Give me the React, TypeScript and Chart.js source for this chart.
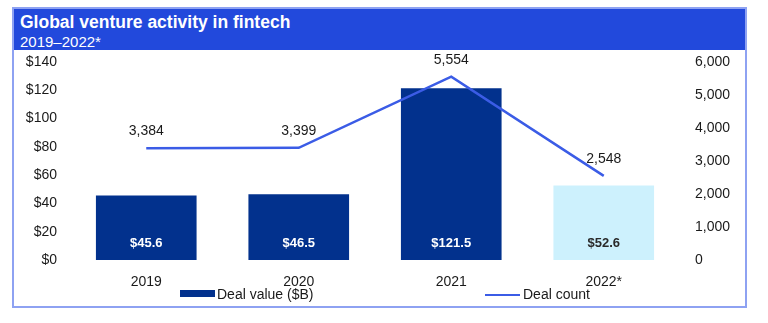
import React, { useEffect, useRef } from "react";
import { Chart, registerables } from "chart.js";

Chart.register(...registerables);

const categories = ["2019", "2020", "2021", "2022*"];
const dealValue = [45.6, 46.5, 121.5, 52.6];
const dealValueLabels = ["$45.6", "$46.5", "$121.5", "$52.6"];
const dealCount = [3384, 3399, 5554, 2548];
const dealCountLabels = ["3,384", "3,399", "5,554", "2,548"];
const barColors = ["#02318d", "#02318d", "#02318d", "#cdf1fd"];
const barLabelColors = ["#ffffff", "#ffffff", "#ffffff", "#2a2a2a"];

const FONT = "'Liberation Sans', Arial, sans-serif";

const labelPlugin = {
  id: "customLabels",
  afterDatasetsDraw(chart: any) {
    const ctx = chart.ctx;
    const barMeta = chart.getDatasetMeta(0);
    const lineMeta = chart.getDatasetMeta(1);
    ctx.save();
    ctx.textAlign = "center";
    ctx.textBaseline = "middle";
    ctx.font = `bold 13px ${FONT}`;
    barMeta.data.forEach((el: any, i: number) => {
      ctx.fillStyle = barLabelColors[i];
      ctx.fillText(dealValueLabels[i], el.x, chart.chartArea.bottom - 17);
    });
    ctx.font = `14px ${FONT}`;
    ctx.fillStyle = "#1a1a1a";
    lineMeta.data.forEach((el: any, i: number) => {
      ctx.fillText(dealCountLabels[i], el.x, el.y - 17);
    });
    // legend
    ctx.textAlign = "left";
    ctx.fillStyle = "#02318d";
    ctx.fillRect(180, 290, 35, 7);
    ctx.fillStyle = "#1a1a1a";
    ctx.font = `14px ${FONT}`;
    ctx.fillText("Deal value ($B)", 217, 295);
    ctx.strokeStyle = "#3b5ce6";
    ctx.lineWidth = 2;
    ctx.beginPath();
    ctx.moveTo(485, 295);
    ctx.lineTo(520, 295);
    ctx.stroke();
    ctx.fillText("Deal count", 523, 295);
    ctx.restore();
  },
};

export default function App() {
  const ref = useRef<HTMLCanvasElement>(null);
  useEffect(() => {
    document.body.style.margin = "0";
    const chart = new Chart(ref.current!, {
      type: "bar",
      data: {
        labels: categories,
        datasets: [
          {
            type: "bar",
            label: "Deal value ($B)",
            data: dealValue,
            backgroundColor: barColors,
            yAxisID: "y",
            categoryPercentage: 1,
            barPercentage: 0.66,
            order: 2,
          },
          {
            type: "line",
            label: "Deal count",
            data: dealCount,
            borderColor: "#3b5ce6",
            borderWidth: 2.5,
            pointRadius: 0,
            tension: 0,
            yAxisID: "y1",
            order: 1,
          },
        ],
      },
      options: {
        responsive: false,
        animation: false,
        layout: { padding: { top: 62, left: 0, right: 0, bottom: 0 } },
        plugins: { legend: { display: false }, tooltip: { enabled: false } },
        scales: {
          x: {
            grid: { display: false, drawTicks: false },
            border: { display: false },
            ticks: { padding: 14, color: "#1a1a1a", font: { family: FONT, size: 14 } },
            afterFit: (s: any) => { s.height = 63; },
          },
          y: {
            position: "left",
            min: 0,
            max: 140,
            grid: { display: false, drawTicks: false },
            border: { display: false },
            ticks: {
              stepSize: 20,
              padding: 13,
              color: "#1a1a1a",
              font: { family: FONT, size: 14 },
              callback: (v: any) => "$" + v,
            },
            afterFit: (s: any) => { s.width = 70; },
          },
          y1: {
            position: "right",
            min: 0,
            max: 6000,
            grid: { display: false, drawTicks: false },
            border: { display: false },
            ticks: {
              stepSize: 1000,
              padding: 15,
              color: "#1a1a1a",
              font: { family: FONT, size: 14 },
              callback: (v: any) => Number(v).toLocaleString("en-US"),
            },
            afterFit: (s: any) => { s.width = 88; },
          },
        },
      },
      plugins: [labelPlugin],
    });
    return () => chart.destroy();
  }, []);

  return (
    <div style={{ position: "relative", width: 768, height: 323, background: "#fff" }}>
      <div
        style={{
          position: "absolute",
          left: 12,
          top: 7,
          width: 731,
          height: 297,
          border: "2px solid #8ea2f2",
        }}
      />
      <div
        style={{
          position: "absolute",
          left: 14,
          top: 9,
          width: 731,
          height: 41,
          background: "#2249dc",
          color: "#fff",
          fontFamily: FONT,
        }}
      >
        <div style={{ position: "absolute", left: 6, top: 3, fontSize: 17.5, fontWeight: "bold" }}>
          Global venture activity in fintech
        </div>
        <div style={{ position: "absolute", left: 6, top: 24, fontSize: 15 }}>2019–2022*</div>
      </div>
      <canvas
        ref={ref}
        width={768}
        height={323}
        style={{ position: "absolute", left: 0, top: 0 }}
      />
    </div>
  );
}
